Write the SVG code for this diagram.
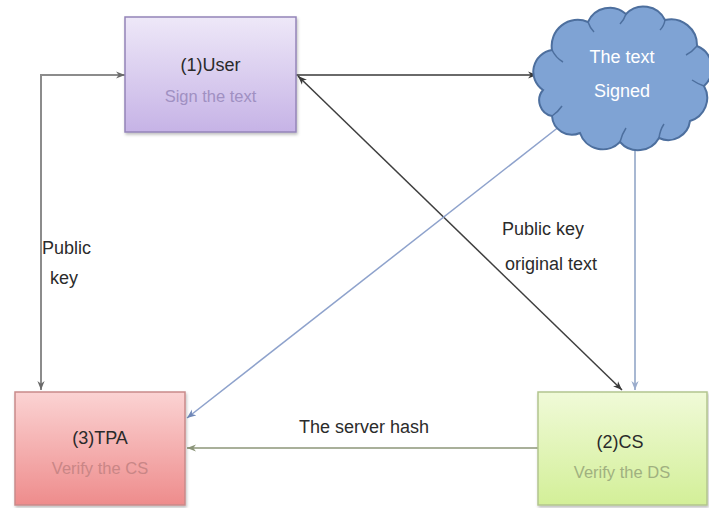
<svg xmlns="http://www.w3.org/2000/svg" width="709" height="508" viewBox="0 0 709 508">
  <style>
    text { font-family: "Liberation Sans", Arial, sans-serif; }
    .title { font-size: 18px; fill: #2a2a2a; text-anchor: middle; }
    .lbl { font-size: 18px; fill: #2b2b2b; }
    .sub { font-size: 16.5px; text-anchor: middle; }
    .conn { fill: none; }
    .crease { fill: none; stroke: #4d6f9e; stroke-width: 1.5; }
  </style>
  <defs>
    <linearGradient id="gUser" x1="0" y1="0" x2="0" y2="1">
      <stop offset="0" stop-color="#eee8f8"/>
      <stop offset="1" stop-color="#c6b3e6"/>
    </linearGradient>
    <linearGradient id="gTpa" x1="0" y1="0" x2="0" y2="1">
      <stop offset="0" stop-color="#fbd3d3"/>
      <stop offset="1" stop-color="#ee8c8c"/>
    </linearGradient>
    <linearGradient id="gCs" x1="0" y1="0" x2="0" y2="1">
      <stop offset="0" stop-color="#f0fad8"/>
      <stop offset="1" stop-color="#d3ef98"/>
    </linearGradient>
    <filter id="sh" x="-10%" y="-10%" width="125%" height="130%">
      <feDropShadow dx="1" dy="2" stdDeviation="1.5" flood-color="#000" flood-opacity="0.25"/>
    </filter>
    <marker id="aDark" viewBox="0 0 10 10" refX="10" refY="5" markerWidth="9" markerHeight="9" markerUnits="userSpaceOnUse" orient="auto-start-reverse">
      <path d="M0,1 L10,5 L0,9 L3,5 z" fill="#3a3a3a"/>
    </marker>
    <marker id="aGray" viewBox="0 0 10 10" refX="10" refY="5" markerWidth="9" markerHeight="9" markerUnits="userSpaceOnUse" orient="auto-start-reverse">
      <path d="M0,1 L10,5 L0,9 L3,5 z" fill="#6a6a6a"/>
    </marker>
    <marker id="aBlue" viewBox="0 0 10 10" refX="10" refY="5" markerWidth="9" markerHeight="9" markerUnits="userSpaceOnUse" orient="auto-start-reverse">
      <path d="M0,1 L10,5 L0,9 L3,5 z" fill="#7088b8"/>
    </marker>
    <marker id="aLBlue" viewBox="0 0 10 10" refX="10" refY="5" markerWidth="9" markerHeight="9" markerUnits="userSpaceOnUse" orient="auto-start-reverse">
      <path d="M0,1 L10,5 L0,9 L3,5 z" fill="#9aaccc"/>
    </marker>
    <marker id="aOlive" viewBox="0 0 10 10" refX="10" refY="5" markerWidth="9" markerHeight="9" markerUnits="userSpaceOnUse" orient="auto-start-reverse">
      <path d="M0,1 L10,5 L0,9 L3,5 z" fill="#8a9478"/>
    </marker>
  </defs>

  <g id="connectors" class="conn">
    <path d="M125,75 H41 V390" stroke="#8c8c8c" stroke-width="2" marker-start="url(#aGray)" marker-end="url(#aGray)"/>
    <path d="M296,75 H537" stroke="#6a6a6a" stroke-width="2" marker-end="url(#aDark)"/>
    <path d="M298,76 L622,390" stroke="#3e3e3e" stroke-width="1.5" marker-start="url(#aDark)" marker-end="url(#aDark)"/>
    <path d="M560,126 L187,418" stroke="#8ea2cc" stroke-width="1.5" marker-end="url(#aBlue)"/>
    <path d="M635,142 V390" stroke="#a8b8d2" stroke-width="2" marker-end="url(#aLBlue)"/>
    <path d="M538,448 H187" stroke="#a9b09a" stroke-width="2" marker-end="url(#aOlive)"/>
  </g>

  <g id="user">
    <rect x="125" y="17" width="171" height="115" fill="url(#gUser)" stroke="#9484b8" stroke-width="1.5" filter="url(#sh)"/>
    <text class="title" x="210.5" y="71">(1)User</text>
    <text class="sub" x="210.5" y="102" fill="#a090c2">Sign the text</text>
  </g>

  <g id="cloud">
    <path d="M543,90 A22,22 0 0 1 552,50 A26,26 0 0 1 588,22 A24,24 0 0 1 626,14 A24,24 0 0 1 665,20 A26,26 0 0 1 697,46 A24,24 0 0 1 704,86 A24,24 0 0 1 690,121 A22,22 0 0 1 659,138 A24,24 0 0 1 620,142 A24,24 0 0 1 580,133 A20,20 0 0 1 552,116 A16,16 0 0 1 543,90 Z" fill="#7fa3d4" stroke="#4d6f9e" stroke-width="2"/>
    <path class="crease" d="M552,50 Q556,58 563,62"/>
    <path class="crease" d="M588,22 Q590,28 594,32"/>
    <path class="crease" d="M626,14 Q624,20 620,24"/>
    <path class="crease" d="M665,20 Q664,26 660,30"/>
    <path class="crease" d="M697,46 Q692,52 686,55"/>
    <path class="crease" d="M704,86 Q698,84 692,80"/>
    <path class="crease" d="M659,138 Q660,130 664,124"/>
    <path class="crease" d="M620,142 Q622,134 626,128"/>
    <path class="crease" d="M552,116 Q558,112 562,106"/>
    <text class="title" x="622" y="63" style="fill:#ffffff">The text</text>
    <text class="title" x="622" y="97" style="fill:#ffffff">Signed</text>
  </g>

  <g id="tpa">
    <rect x="15" y="392" width="170" height="113" fill="url(#gTpa)" stroke="#c98a8a" stroke-width="1.5" filter="url(#sh)"/>
    <text class="title" x="100" y="444">(3)TPA</text>
    <text class="sub" x="100" y="474" fill="#c98686">Verify the CS</text>
  </g>

  <g id="cs">
    <rect x="538" y="392" width="169" height="113" fill="url(#gCs)" stroke="#b3c58e" stroke-width="1.5" filter="url(#sh)"/>
    <text class="title" x="620" y="448">(2)CS</text>
    <text class="sub" x="622" y="478" fill="#a0b080">Verify the DS</text>
  </g>

  <g id="labels">
    <text class="lbl" x="42" y="254">Public</text>
    <text class="lbl" x="50" y="284">key</text>
    <text class="lbl" x="502" y="235">Public key</text>
    <text class="lbl" x="505" y="270">original text</text>
    <text class="lbl" x="364" y="433" text-anchor="middle">The server hash</text>
  </g>
</svg>
